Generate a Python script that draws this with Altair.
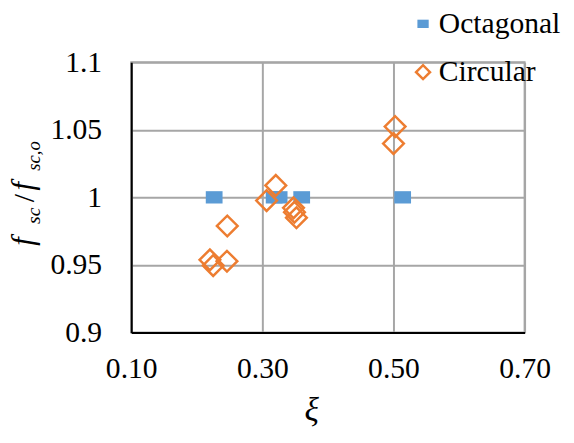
import altair as alt
import pandas as pd

# Data
oct_x = [0.2265, 0.318, 0.3256, 0.360, 0.514]
oct_y = [1.0, 1.0, 1.0, 1.0, 1.0]
circ_x = [0.5025, 0.500, 0.3205, 0.3065, 0.3475, 0.349, 0.352, 0.2465, 0.220, 0.225, 0.246]
circ_y = [1.0524, 1.0398, 1.0088, 0.9976, 0.9922, 0.989, 0.9849, 0.9788, 0.9537, 0.9495, 0.9527]
series_names = ["Octagonal", "Circular"]
x_ticks = [0.1, 0.3, 0.5, 0.7]
y_ticks = [0.9, 0.95, 1.0, 1.05, 1.1]

df = pd.DataFrame({
    "xi": oct_x + circ_x,
    "ratio": oct_y + circ_y,
    "series": ["Octagonal"] * len(oct_x) + ["Circular"] * len(circ_x),
})

FONT = "Liberation Serif"
BLUE = "#5B9BD5"
ORANGE = "#ED7D31"
RECT = "M-0.81,-0.595H0.81V0.595H-0.81Z"

points = alt.Chart(df).mark_point(opacity=1, size=441).encode(
    x=alt.X("xi:Q", scale=alt.Scale(domain=[0.1, 0.7], nice=False),
            axis=alt.Axis(values=x_ticks, format=".2f", title=None, labelFlush=False)),
    y=alt.Y("ratio:Q", scale=alt.Scale(domain=[0.9, 1.1], nice=False, zero=False),
            axis=alt.Axis(values=y_ticks, format="~g", title=None, labelFlush=False)),
    shape=alt.Shape("series:N", scale=alt.Scale(domain=series_names, range=[RECT, "diamond"]),
                    legend=alt.Legend(title=None)),
    stroke=alt.Stroke("series:N", scale=alt.Scale(domain=series_names, range=[BLUE, ORANGE]),
                      legend=alt.Legend(title=None)),
    fill=alt.Fill("series:N", scale=alt.Scale(domain=series_names, range=[BLUE, "transparent"]),
                  legend=alt.Legend(title=None)),
    strokeWidth=alt.StrokeWidth("series:N", scale=alt.Scale(domain=series_names, range=[0, 2.5]),
                                legend=alt.Legend(title=None)),
)

# axis titles built from text pieces so the subscripts can be drawn smaller
title_pieces = [
    # text, size, italic, angle, x, y
    ("f", 31, "italic", 270, -100, 186),
    ("sc", 20, "italic", 270, -93, 164),
    ("/", 30, "normal", 270, -99, 142),
    ("f", 31, "italic", 270, -100, 130),
    ("sc,o", 19, "italic", 270, -93, 110),
    ("ξ", 34, "italic", 0, 183, 364),
]
layers = [points]
for txt, fs, style, ang, px, py in title_pieces:
    layers.append(
        alt.Chart(pd.DataFrame({"t": [txt]})).mark_text(
            angle=ang, align="left" if ang else "center", baseline="alphabetic", font=FONT,
            fontStyle=style, fontSize=fs, color="black"
        ).encode(text="t:N", x=alt.value(px), y=alt.value(py))
    )

chart = alt.layer(*layers).properties(
    width=399, height=274,
    autosize=alt.AutoSizeParams(type="none"),
    padding={"left": 125, "top": 52, "right": 42, "bottom": 100},
).configure_view(
    stroke="#A6A6A6", strokeWidth=2
).configure_axis(
    labelFont=FONT, labelFontSize=30, labelColor="black",
    grid=True, gridColor="#A6A6A6", gridWidth=2,
    ticks=False, domainColor="black", domainWidth=2,
    labelPadding=22,
).configure_axisY(
    labelPadding=30,
).configure_legend(
    orient="none", legendX=281, legendY=-54, padding=0,
    labelFont=FONT, labelFontSize=30, labelColor="black",
    symbolSize=200, rowPadding=19, labelOffset=1,
)

chart.save("out.html", embed_options={"renderer": "svg", "actions": False})
